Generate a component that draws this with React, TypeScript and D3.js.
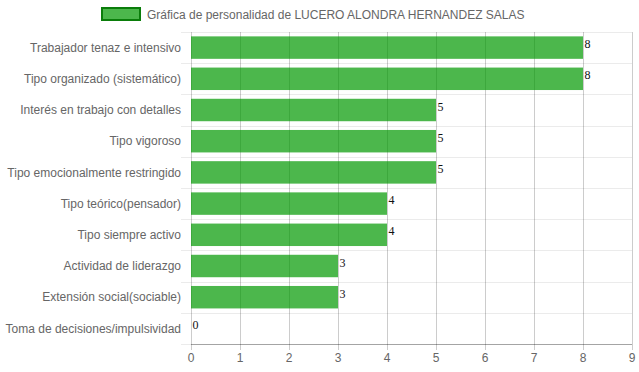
import React from "react";
import * as d3 from "d3";

const categories = [
  "Trabajador tenaz e intensivo",
  "Tipo organizado (sistemático)",
  "Interés en trabajo con detalles",
  "Tipo vigoroso",
  "Tipo emocionalmente restringido",
  "Tipo teórico(pensador)",
  "Tipo siempre activo",
  "Actividad de liderazgo",
  "Extensión social(sociable)",
  "Toma de decisiones/impulsividad",
];
const values = [8, 8, 5, 5, 5, 4, 4, 3, 3, 0];
const xTicks = [0, 1, 2, 3, 4, 5, 6, 7, 8, 9];
const seriesName = "Gráfica de personalidad de LUCERO ALONDRA HERNANDEZ SALAS";

const W = 639;
const H = 372;
const left = 191;
const right = 632;
const top = 32;
const bottom = 344;
const font = "'Liberation Sans', Arial, Helvetica, sans-serif";

export default function App() {
  const x = d3.scaleLinear().domain([0, 9]).range([left, right]);
  const y = d3.scaleBand<string>().domain(categories).range([top, bottom]).padding(0);
  const bw = y.bandwidth() * 0.72;
  const boundaries = categories.map((c) => y(c)!).concat([bottom]);

  return (
    <svg width={W} height={H} style={{ position: "absolute", left: 0, top: 0, background: "#fff" }}>
      {boundaries.map((b, i) => (
        <line key={"h" + i} x1={left - 10} x2={right} y1={Math.round(b) + 0.5} y2={Math.round(b) + 0.5}
          stroke="rgba(0,0,0,0.08)" strokeWidth={1} />
      ))}
      {xTicks.map((t) => (
        <line key={"v" + t} x1={Math.round(x(t)) + 0.5} x2={Math.round(x(t)) + 0.5} y1={top} y2={bottom + 6}
          stroke="rgba(0,0,0,0.2)" strokeWidth={1} />
      ))}
      {values.map((v, i) => {
        const c = categories[i];
        const yc = y(c)! + y.bandwidth() / 2;
        return (
          <rect key={"b" + i} x={x(0)} y={yc - bw / 2} width={x(v) - x(0)} height={bw}
            fill="rgba(0,152,0,0.7)" />
        );
      })}
      <line x1={left} x2={right} y1={bottom + 0.5} y2={bottom + 0.5} stroke="rgba(0,0,0,0.3)" />
      {values.map((v, i) => {
        const c = categories[i];
        const yc = y(c)! + y.bandwidth() / 2;
        return (
          <text key={"v" + i} x={x(v) + 1.5} y={yc + 0.5} fontFamily="'Liberation Serif', 'Times New Roman', serif"
            fontSize={12} fill="#111">{v}</text>
        );
      })}
      {categories.map((c) => (
        <text key={"l" + c} x={181} y={y(c)! + y.bandwidth() / 2} dy="0.35em" textAnchor="end"
          fontFamily={font} fontSize={12} fill="#666">{c}</text>
      ))}
      {xTicks.map((t) => (
        <text key={"t" + t} x={x(t)} y={362} textAnchor="middle" fontFamily={font} fontSize={12} fill="#666">{t}</text>
      ))}
      <rect x={102} y={8} width={38} height={12} fill="rgba(0,152,0,0.7)" stroke="#0a7d0a" strokeWidth={2} />
      <text x={147} y={18.5} fontFamily={font} fontSize={12} fill="#666">{seriesName}</text>
    </svg>
  );
}
